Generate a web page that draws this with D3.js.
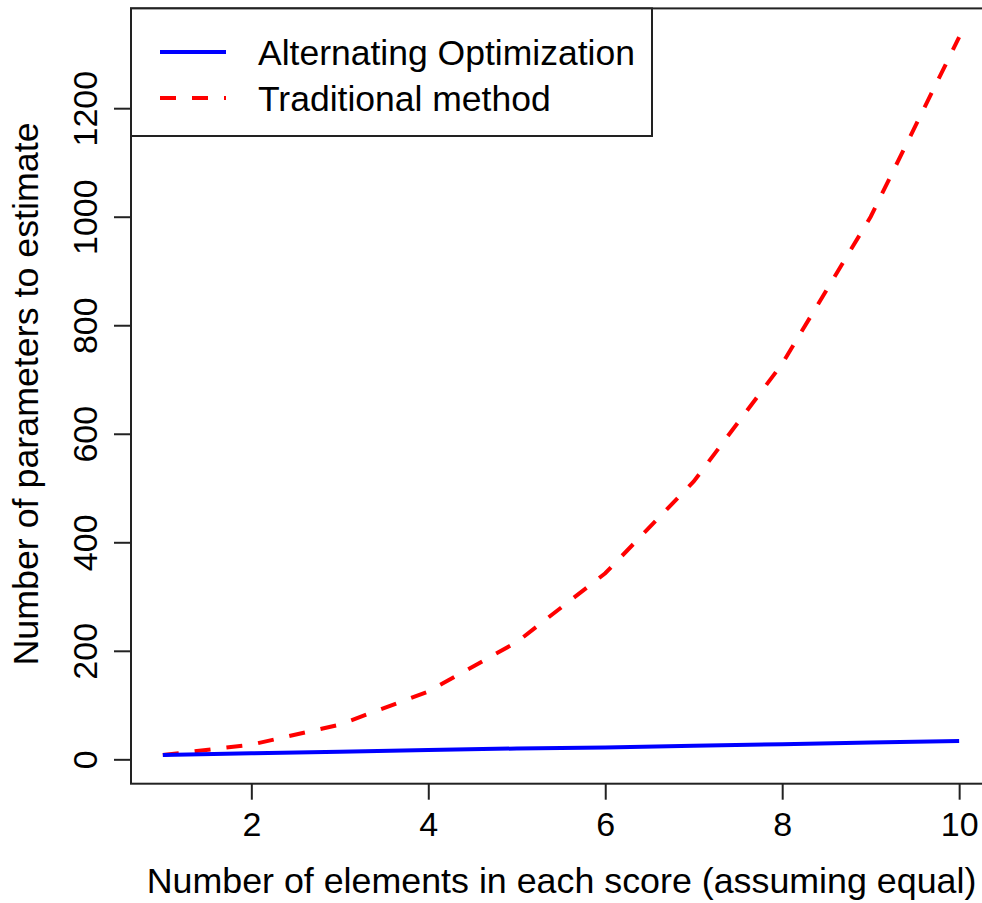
<!DOCTYPE html>
<html>
<head>
<meta charset="utf-8">
<script src="https://cdn.jsdelivr.net/npm/d3@7"></script>
<style>
  html, body { margin: 0; padding: 0; background: #fff; }
  svg { display: block; }
  text { font-family: "Liberation Sans", Arial, sans-serif; fill: #000; }
</style>
</head>
<body>
<svg id="chart" width="982" height="903"></svg>
<script>
// ---- data ----
const elements = [1, 2, 3, 4, 5, 6, 7, 8, 9, 10];
const alternatingOptimization = [8, 11, 14, 17, 20, 22, 25, 28, 31, 34];
const traditionalMethod = [8, 27, 64, 125, 216, 343, 512, 729, 1000, 1331];
const xTicks = [2, 4, 6, 8, 10];
const yTicks = [0, 200, 400, 600, 800, 1000, 1200];
const seriesNames = ["Alternating Optimization", "Traditional method"];
const xTitle = "Number of elements in each score (assuming equal)";
const yTitle = "Number of parameters to estimate";

(function () {
const svg = d3.select("#chart");
const pL = 131, pR = 991, pT = 8.4, pB = 783.7;
const FT = 34, FL = 35.8, FG = 35.5;

const x = d3.scaleLinear().domain([0.64, 10.36]).range([pL, pR]);
const y = d3.scaleLinear().domain([-44.92, 1383.92]).range([pB, pT]);

// lines
const line = d3.line().x((d, i) => x(elements[i])).y(d => y(d));

svg.append("path")
  .datum(traditionalMethod)
  .attr("d", line)
  .attr("fill", "none")
  .attr("stroke", "#ff0000")
  .attr("stroke-width", 4)
  .attr("stroke-dasharray", "16,16");

svg.append("path")
  .datum(alternatingOptimization)
  .attr("d", line)
  .attr("fill", "none")
  .attr("stroke", "#0000ff")
  .attr("stroke-width", 4);

// frame
svg.append("rect")
  .attr("x", pL).attr("y", pT)
  .attr("width", pR - pL).attr("height", pB - pT)
  .attr("fill", "none").attr("stroke", "#222").attr("stroke-width", 2);

// x axis
const xAxis = d3.axisBottom(x).tickValues(xTicks).tickSize(16).tickPadding(0).tickFormat(d3.format("d"));
const gx = svg.append("g").attr("transform", `translate(0,${pB})`).call(xAxis);
gx.select(".domain").remove();
gx.selectAll(".tick line").attr("stroke", "#222").attr("stroke-width", 2);
gx.selectAll(".tick text")
  .attr("y", 836 - pB).attr("dy", null)
  .style("font-size", FT + "px")
  .style("font-family", "'Liberation Sans', Arial, sans-serif")
  .attr("fill", "#000");

// y axis
const yAxis = d3.axisLeft(y).tickValues(yTicks).tickSize(17).tickPadding(0).tickFormat(d3.format("d"));
const gy = svg.append("g").attr("transform", `translate(${pL},0)`).call(yAxis);
gy.select(".domain").remove();
gy.selectAll(".tick line").attr("stroke", "#222").attr("stroke-width", 2);
gy.selectAll(".tick text")
  .attr("x", null).attr("dy", null)
  .attr("text-anchor", "middle")
  .attr("transform", `translate(${97 - pL},0) rotate(-90)`)
  .style("font-size", FT + "px")
  .style("font-family", "'Liberation Sans', Arial, sans-serif")
  .attr("fill", "#000");

// axis titles
svg.append("text")
  .attr("x", 561.5).attr("y", 893)
  .attr("text-anchor", "middle")
  .style("font-size", FL + "px")
  .text(xTitle);

svg.append("text")
  .attr("transform", `translate(38,394) rotate(-90)`)
  .attr("text-anchor", "middle")
  .style("font-size", FL + "px")
  .text(yTitle);

// legend
const lg = svg.append("g");
lg.append("rect")
  .attr("x", pL).attr("y", pT)
  .attr("width", 652 - pL).attr("height", 136 - pT)
  .attr("fill", "#fff").attr("stroke", "#222").attr("stroke-width", 2);
const legendColors = ["#0000ff", "#ff0000"];
const legendDash = [null, "16,16"];
const legendY = [52, 98];
seriesNames.forEach((name, i) => {
  lg.append("line")
    .attr("x1", 160).attr("x2", 226)
    .attr("y1", legendY[i]).attr("y2", legendY[i])
    .attr("stroke", legendColors[i]).attr("stroke-width", 4)
    .attr("stroke-dasharray", legendDash[i]);
  lg.append("text")
    .attr("x", 258).attr("y", legendY[i] + 12.5)
    .style("font-size", FG + "px")
    .text(name);
});
})();
</script>
</body>
</html>
